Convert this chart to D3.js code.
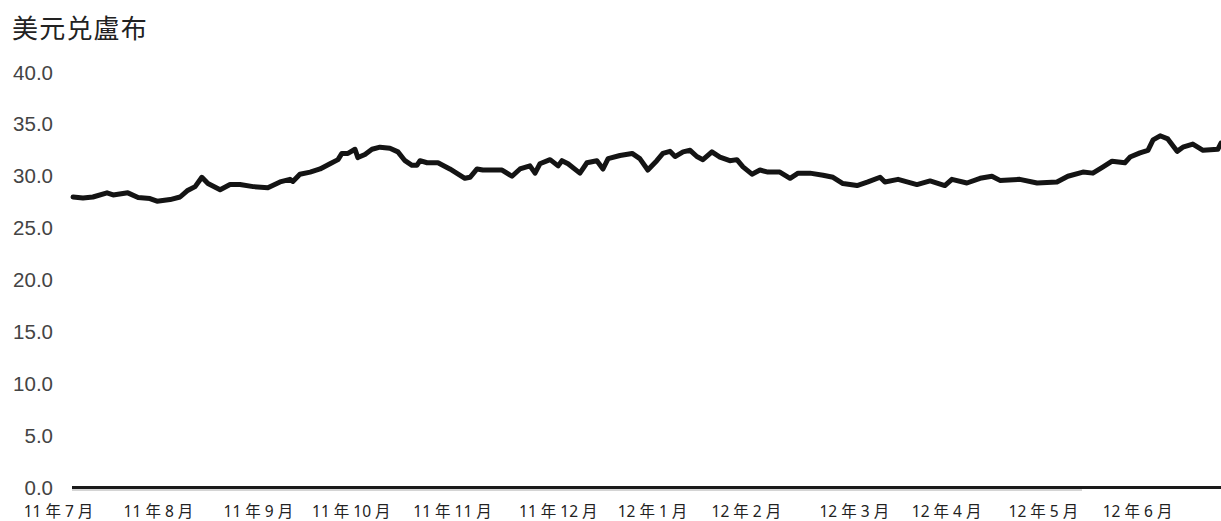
<!DOCTYPE html>
<html>
<head>
<meta charset="utf-8">
<script src="https://cdn.jsdelivr.net/npm/d3@7"></script>
<style>
  body { margin: 0; background: #fff; }
</style>
</head>
<body>
<script>
const width = 1221;
const height = 521;

// days since 2011-07-01
const days = [4.7, 7.8, 10.9, 15.3, 17.2, 21.8, 25.0, 28.7, 30.9, 35.0, 38.1, 40.3, 42.8, 44.9, 46.8,
  50.6, 53.7, 56.8, 60.9, 65.5, 69.3, 72.4, 73.3, 75.5, 78.7, 81.8, 84.9, 87.4, 88.6, 90.5, 92.7,
  93.6, 95.8, 98.0, 100.5, 103.6, 106.1, 108.3, 110.5, 112.0, 113.0, 115.2, 118.6, 122.3, 127.0,
  128.6, 130.8, 132.6, 138.6, 141.7, 144.2, 147.3, 148.9, 150.4, 153.6, 156.1, 157.3, 159.2, 162.9,
  165.1, 168.2, 170.1, 171.7, 175.4, 179.2, 181.6, 184.1, 186.9, 188.8, 191.0, 192.6, 195.1, 197.3,
  199.4, 201.3, 204.1, 206.6, 209.7, 211.9, 213.8, 216.6, 219.1, 221.6, 225.3, 228.5, 231.0, 234.7,
  238.8, 241.9, 245.0, 249.4, 252.8, 256.6, 258.1, 262.2, 268.1, 272.2, 276.8, 279.0, 283.7, 287.8,
  291.5, 294.0, 300.2, 305.6, 311.8, 315.2, 319.9, 323.0, 326.2, 329.0, 333.0, 334.6, 337.7, 340.2,
  341.8, 344.0, 346.4, 349.3, 351.1, 354.2, 357.4, 362.0, 363.0];

const rate = [28.0, 27.9, 28.0, 28.4, 28.2, 28.4, 27.95, 27.85, 27.6, 27.75, 28.0, 28.6, 29.0, 29.9, 29.3,
  28.7, 29.2, 29.2, 29.0, 28.9, 29.45, 29.7, 29.5, 30.2, 30.4, 30.7, 31.2, 31.6, 32.2, 32.2, 32.6,
  31.8, 32.1, 32.6, 32.8, 32.7, 32.35, 31.5, 31.05, 31.05, 31.5, 31.3, 31.3, 30.7, 29.8,
  29.9, 30.7, 30.6, 30.6, 30.0, 30.7, 31.0, 30.3, 31.2, 31.6, 31.0, 31.5, 31.2, 30.3,
  31.3, 31.5, 30.7, 31.7, 32.0, 32.2, 31.7, 30.6, 31.5, 32.2, 32.4, 31.9, 32.35, 32.5,
  31.9, 31.6, 32.35, 31.85, 31.5, 31.6, 30.9, 30.2, 30.6, 30.4, 30.4, 29.8, 30.3, 30.3,
  30.1, 29.9, 29.3, 29.1, 29.45, 29.9, 29.45, 29.7, 29.2, 29.55, 29.1, 29.7, 29.35, 29.8,
  30.0, 29.6, 29.7, 29.35, 29.45, 30.0, 30.4, 30.3, 30.9, 31.45, 31.3, 31.85, 32.25, 32.5,
  33.5, 33.9, 33.6, 32.4, 32.8, 33.1, 32.5, 32.6, 33.2];

const monthLabels = ["11 年 7 月", "11 年 8 月", "11 年 9 月", "11 年 10 月", "11 年 11 月", "11 年 12 月",
  "12 年 1 月", "12 年 2 月", "12 年 3 月", "12 年 4 月", "12 年 5 月", "12 年 6 月"];
const monthPos = [0, 31.2, 62.4, 91.4, 123, 156, 185.4, 214.7, 248.4, 277.2, 307.4, 336.8];

const yTicks = [0, 5, 10, 15, 20, 25, 30, 35, 40];

const svg = d3.select('body')
              .append('svg')
              .attr("width", width)
              .attr("height", height);

const x = d3.scaleLinear().domain([0, 363]).range([58, 1221]);
const y = d3.scaleLinear().domain([0, 40]).range([487.5, 72.5]);

// title
svg.append('text')
    .attr('x', 12)
    .attr('y', 37.5)
    .attr('font-family', '"Noto Sans CJK SC", "Noto Sans CJK TC", sans-serif')
    .attr('font-size', 26)
    .attr('letter-spacing', 1.2)
    .attr('fill', '#222')
    .text('美元兑盧布');

// y axis labels
const yAxis = svg.append('g')
    .attr('transform', 'translate(56,0)')
    .call(d3.axisLeft(y).tickValues(yTicks).tickFormat(d3.format('.1f')).tickSize(0).tickPadding(3));
yAxis.select('.domain').remove();
yAxis.selectAll('text')
    .attr('font-family', '"Liberation Sans", Arial, sans-serif')
    .attr('font-size', 20.5)
    .attr('fill', '#444');

// base line
svg.append('line')
    .attr('x1', 72).attr('x2', width)
    .attr('y1', y(0)).attr('y2', y(0))
    .attr('stroke', '#1a1a1a')
    .attr('stroke-width', 3);
svg.append('line')
    .attr('x1', 72).attr('x2', 1082)
    .attr('y1', y(0) + 2.5).attr('y2', y(0) + 2.5)
    .attr('stroke', '#aaa')
    .attr('stroke-width', 1);

// x axis labels
const xAxis = svg.append('g')
    .attr('transform', `translate(0,${y(0) + 12})`)
    .call(d3.axisBottom(x).tickValues(monthPos).tickFormat((d, i) => monthLabels[i]).tickSize(0).tickPadding(6));
xAxis.select('.domain').remove();
xAxis.selectAll('text')
    .attr('font-family', '"Noto Sans", "Noto Sans CJK SC", sans-serif')
    .attr('font-size', 15.5)
    .attr('fill', '#222');

// rate line
const points = days.map((d, i) => [d, rate[i]]);
svg.append('path')
    .datum(points)
    .attr('fill', 'none')
    .attr('stroke', '#141414')
    .attr('stroke-width', 5)
    .attr('stroke-linejoin', 'round')
    .attr('stroke-linecap', 'round')
    .attr('d', d3.line().x(d => x(d[0])).y(d => y(d[1])));
</script>
</body>
</html>
